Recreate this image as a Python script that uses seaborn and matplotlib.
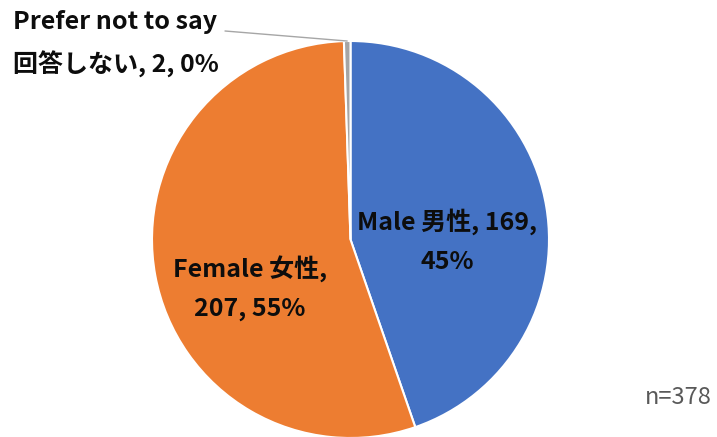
import numpy as np
import matplotlib
matplotlib.use("Agg")
import matplotlib.pyplot as plt
import seaborn as sns

# Survey responses by gender
categories = ["Male 男性", "Female 女性", "Prefer not to say\n回答しない"]
counts = [169, 207, 2]
pct_labels = [45, 55, 0]
colors = ["#4472C4", "#ED7D31", "#A5A5A5"]
sample_note = "n=378"

sns.set_theme(style="white")
plt.rcParams["font.family"] = ["Noto Sans CJK JP", "DejaVu Sans"]

W, H = 717, 437
fig = plt.figure(figsize=(W / 100, H / 100), dpi=100)
fig.patch.set_facecolor("white")

# pie occupies a square region of the canvas (pixel geometry)
cx, cy, r = 350.5, 239.5, 198.5
ax = fig.add_axes([(cx - r) / W, (H - cy - r) / H, 2 * r / W, 2 * r / H])
ax.set_aspect("equal")
ax.axis("off")

palette = sns.color_palette(colors)
wedges, _ = ax.pie(counts, colors=palette, startangle=90, counterclock=False,
                   radius=1, wedgeprops=dict(edgecolor="white", linewidth=1.5))
ax.set_xlim(-1, 1)
ax.set_ylim(-1, 1)

tkw = dict(fontsize=18, fontweight="bold", color="#0D0D0D", ha="center", va="center",
           linespacing=1.78)

ax.text(0.487, -0.008, f"{categories[0]}, {counts[0]},\n{pct_labels[0]}%", **tkw)
ax.text(-0.506, -0.244, f"{categories[1]},\n{counts[1]}, {pct_labels[1]}%", **tkw)

# small slice label placed outside with a leader line
name_en, name_ja = categories[2].split("\n")
fig.text(13 / W, 1 - 44 / H, f"{name_en}\n{name_ja}, {counts[2]}, {pct_labels[2]}%",
         fontsize=18, fontweight="bold", color="#0D0D0D", ha="left", va="center",
         linespacing=1.78)
w = wedges[2]
mid = np.deg2rad((w.theta1 + w.theta2) / 2)
ax.annotate("", xy=(np.cos(mid), np.sin(mid)), xycoords="data",
            xytext=(225 / W, 1 - 31 / H), textcoords="figure fraction",
            arrowprops=dict(arrowstyle="-", color="#A6A6A6", lw=1,
                            shrinkA=0, shrinkB=0))

fig.text(712 / W, 1 - 397 / H, sample_note, fontsize=17, color="#595959",
         ha="right", va="center")

fig.savefig("out.png", dpi=100, facecolor="white")
